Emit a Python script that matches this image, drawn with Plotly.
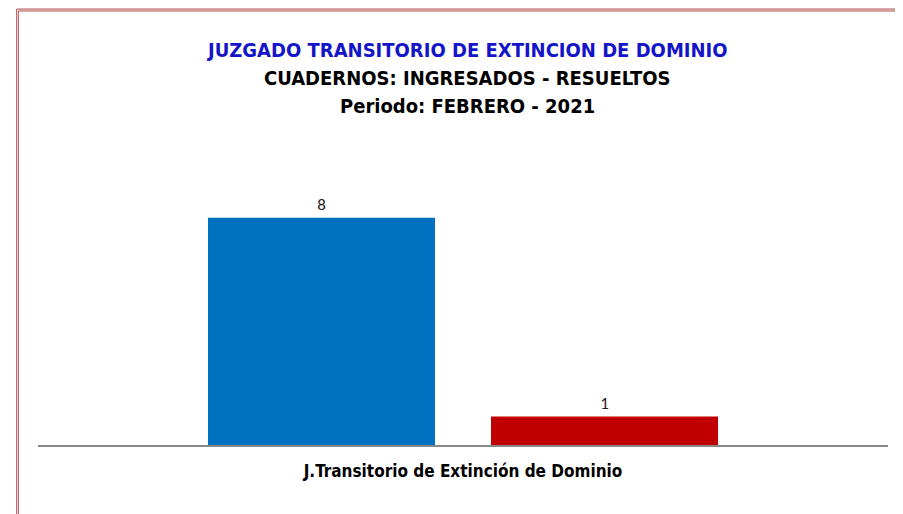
import plotly.graph_objects as go

category = ["J.Transitorio de Extinción de Dominio"]
series_names = ["Ingresados", "Resueltos"]
ingresados = [8]
resueltos = [1]
colors = ["#0070C0", "#C00000"]

# the page body has an 8px margin, so the figure starts at (8, 8) of the window
OFF = 8
W, H = 903 - OFF, 514 - OFF
L, R, T, B = 38 - OFF, 15, 161 - OFF, 69
pw, ph = W - L - R, H - T - B

NARROW = "Liberation Sans Narrow, DejaVu Sans Condensed, Roboto Condensed, Arial Narrow, Liberation Sans"


def px(x):
    return (x - OFF - L) / pw


def py(y):
    return (H - B - (y - OFF)) / ph


fig = go.Figure()
for name, vals, col in zip(series_names, [ingresados, resueltos], colors):
    fig.add_trace(go.Bar(
        x=category, y=vals, name=name, marker=dict(color=col, line=dict(width=0)),
        text=[str(v) for v in vals], textposition="outside", constraintext="none",
        textfont=dict(family="Carlito, Calibri, DejaVu Sans", size=17, color="#222"),
        cliponaxis=False,
    ))

# title lines
titles = [
    ("JUZGADO TRANSITORIO DE EXTINCION DE DOMINIO", "#1414C8", 50),
    ("CUADERNOS: INGRESADOS - RESUELTOS", "#000000", 78),
    ("Periodo: FEBRERO - 2021", "#000000", 106),
]
for txt, col, y in titles:
    fig.add_annotation(
        text="<b>" + txt + "</b>", xref="paper", yref="paper", x=px(467), y=py(y),
        showarrow=False, xanchor="center", yanchor="middle",
        font=dict(family=NARROW, size=20, color=col),
    )

# double border line (top and left)
border_dark = "#C07070"
border_light = "#E8C4C4"
fig.add_shape(type="line", xref="paper", yref="paper", x0=px(17.5), x1=px(903), y0=py(10), y1=py(10),
              line=dict(color=border_light, width=3))
fig.add_shape(type="line", xref="paper", yref="paper", x0=px(17.5), x1=px(17.5), y0=py(10), y1=py(514),
              line=dict(color=border_light, width=3))
for off in (0, 2):
    fig.add_shape(type="line", xref="paper", yref="paper", x0=px(16.5 + off), x1=px(903), y0=py(9 + off), y1=py(9 + off),
                  line=dict(color=border_dark, width=1))
    fig.add_shape(type="line", xref="paper", yref="paper", x0=px(16.5 + off), x1=px(16.5 + off), y0=py(9 + off), y1=py(514),
                  line=dict(color=border_dark, width=1))

fig.update_layout(
    width=W, height=H,
    margin=dict(l=L, r=R, t=T, b=B),
    paper_bgcolor="white", plot_bgcolor="white",
    barmode="group", bargap=0.334, bargroupgap=0.198,
    showlegend=False,
    xaxis=dict(showline=True, linecolor="#888888", linewidth=1.5, ticks="",
               ticklabelstandoff=10,
               tickfont=dict(family=NARROW, size=17, color="#000"),
               tickvals=category, ticktext=["<b>" + c + "</b>" for c in category]),
    yaxis=dict(range=[0, 10], visible=False, showgrid=False, zeroline=False),
)

fig.write_html("out.html")
